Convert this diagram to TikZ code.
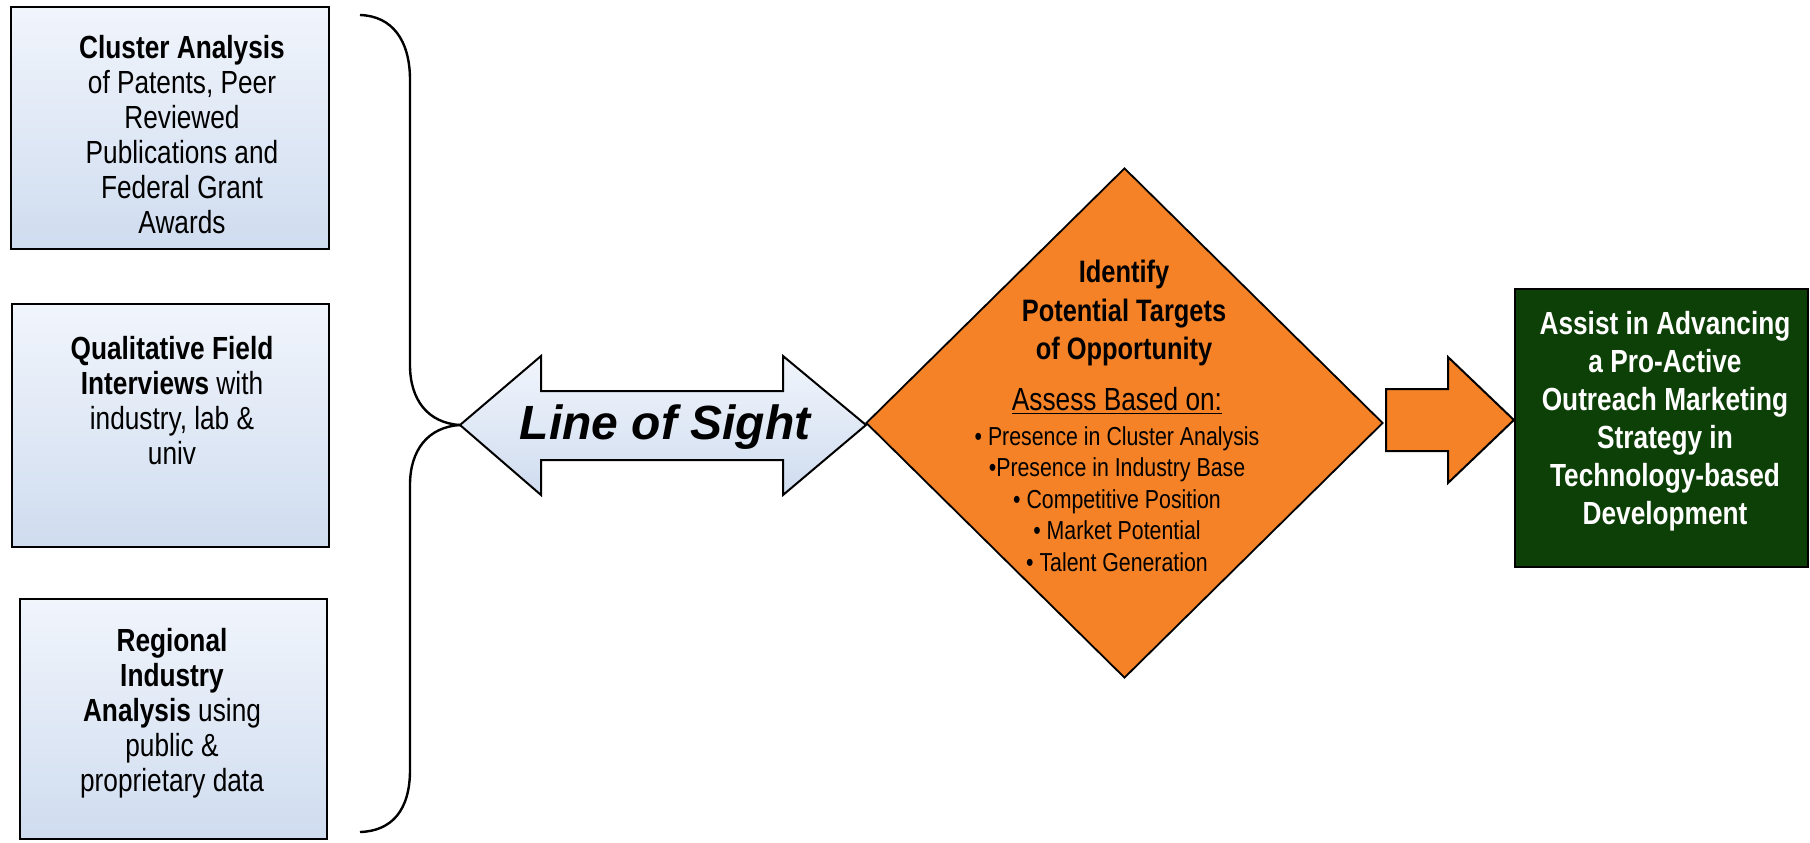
\documentclass[tikz,border=0pt]{standalone}
\usepackage{fontspec}
\setmainfont{Liberation Sans}[FakeStretch=0.82]
\newfontfamily\sightfont{Liberation Sans}
\usepackage{tikz}
\usetikzlibrary{calc,shapes.geometric}
\definecolor{boxtop}{RGB}{241,245,252}
\definecolor{boxbot}{RGB}{207,220,239}
\definecolor{targorange}{RGB}{245,130,38}
\definecolor{stratgreen}{RGB}{13,64,7}
\tikzset{
  srcbox/.style={draw=black,line width=1.1pt,top color=boxtop,bottom color=boxbot,inner sep=0pt},
  srctext/.style={align=center,inner sep=0pt,font=\fontsize{16}{17.5}\selectfont},
  bracepath/.style={draw=black,line width=1.2pt},
  targbox/.style={diamond,draw=black,line width=0.9pt,fill=targorange,inner sep=0pt,
    minimum width=258.5pt,minimum height=255pt},
  stratbox/.style={draw=black,line width=1.1pt,fill=stratgreen,inner sep=0pt},
}
\begin{document}
\begin{tikzpicture}[x=0.5pt,y=-0.5pt]
\useasboundingbox (0,0) rectangle (1810,842);
% three source boxes
\node[srcbox,minimum width=159pt,minimum height=121pt] (clus) at (170,128) {};
\node[srcbox,minimum width=158.5pt,minimum height=121.5pt] (qual) at (170.5,425.5) {};
\node[srcbox,minimum width=153.5pt,minimum height=120pt] (regi) at (173.5,719) {};
\node[srctext] (clustxt) at (182,135) {\textbf{Cluster Analysis}\\of Patents, Peer\\Reviewed\\Publications and\\Federal Grant\\Awards};
\node[srctext] (qualtxt) at (172,401) {\textbf{Qualitative Field}\\\textbf{Interviews} with\\industry, lab \&\\univ};
\node[srctext] (regitxt) at (172,713) {\textbf{Regional}\\\textbf{Industry}\\\textbf{Analysis} using\\public \&\\proprietary data};
% line of sight
\coordinate (losl) at (460,425);
\coordinate (losr) at (866,425);
\draw[black,line width=1pt,top color=boxtop,bottom color=boxbot]
  (losl) -- (541,356) -- (541,391) -- (783,391) -- (783,356) -- (losr)
  -- (783,495) -- (783,460) -- (541,460) -- (541,495) -- cycle;
\node[inner sep=0pt,font=\sightfont\bfseries\itshape\fontsize{24}{28}\selectfont] (los) at (665,427) {Line of Sight};
% brace
\coordinate (bracetop) at (360,15);
\coordinate (bracebot) at (360,832);
\draw[bracepath] (bracetop) .. controls (392,16) and (410,40) .. (410,80) -- (410,365)
  .. controls (410,400) and (428,423) .. (losl);
\draw[bracepath] (losl) .. controls (428,427) and (410,450) .. (410,485) -- (410,770)
  .. controls (410,810) and (392,831) .. (bracebot);
% targets
\node[targbox] (targ) at (1124.5,423) {};
\node[align=center,inner sep=0pt,font=\bfseries\fontsize{15.5}{19.3}\selectfont] (targtitle) at (1124,313) {Identify\\Potential Targets\\of Opportunity};
\node[inner sep=0pt,font=\fontsize{16}{18}\selectfont] (assess) at (1117,401) {\underline{Assess Based on:}};
\node[align=center,inner sep=0pt,font=\fontsize{13}{15.8}\selectfont] (crit) at (1117,499) {• Presence in Cluster Analysis\\•Presence in Industry Base\\• Competitive Position\\• Market Potential\\• Talent Generation};
% strategy
\node[stratbox,minimum width=146.5pt,minimum height=139pt] (strat) at (1661.5,428) {};
\draw[black,line width=1pt,fill=targorange]
  (1386,389) -- (1448,389) -- (1448,357) -- (strat.west |- 0,420) -- (1448,483) -- (1448,451) -- (1386,451) -- cycle;
\node[align=center,inner sep=0pt,text=white,font=\bfseries\fontsize{16}{19}\selectfont] (strattxt) at (1665,421) {Assist in Advancing\\a Pro-Active\\Outreach Marketing\\Strategy in\\Technology-based\\Development};
\end{tikzpicture}
\end{document}
